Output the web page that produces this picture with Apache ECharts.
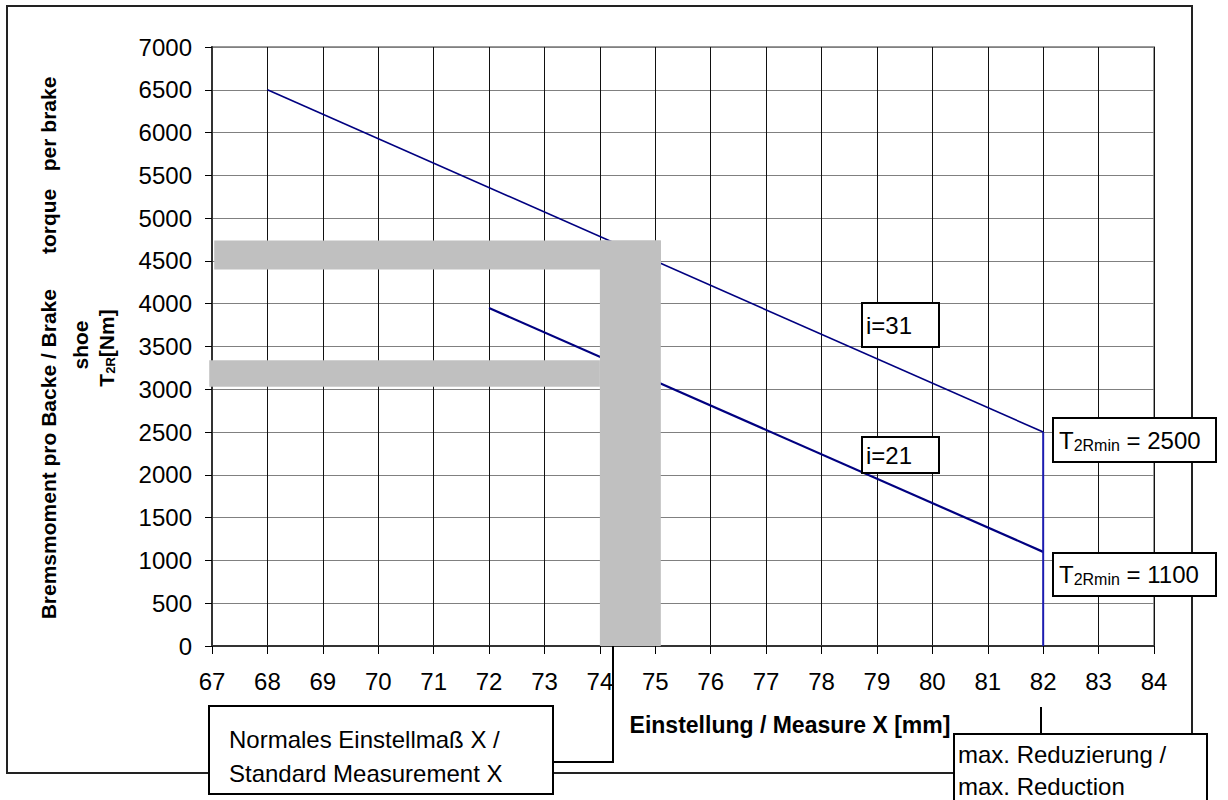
<!DOCTYPE html>
<html>
<head>
<meta charset="utf-8">
<script src="https://cdn.jsdelivr.net/npm/echarts@6.0.0/dist/echarts.min.js"></script>
<style>
  html, body { margin: 0; padding: 0; background: #fff; }
  #chart { width: 1228px; height: 800px; }
</style>
</head>
<body>
<div id="chart"></div>
<script>
// i=31 gear ratio
const xI31 = [68, 82];
const yI31 = [6500, 2500];
// i=21 gear ratio
const xI21 = [72, 82];
const yI21 = [3950, 1100];
// max. reduction limit at X = 82
const xLimit = [82, 82];
const yLimit = [2500, 0];

// grey marker bands: [xFrom, xTo, yFrom, yTo]
const bandXFrom = [67.04, 66.95, 74];
const bandXTo = [75.1, 74, 75.1];
const bandYFrom = [4400, 3030, 0];
const bandYTo = [4740, 3340, 4740];

const xTicks = [67, 84, 1];
const yTicks = [0, 7000, 500];

const FONT = '"Liberation Sans", Arial, sans-serif';

const toPairs = (xs, ys) => xs.map((x, i) => [x, ys[i]]);
const bands = bandXFrom.map((x, i) => [x, bandXTo[i], bandYFrom[i], bandYTo[i]]);

const chart = echarts.init(document.getElementById('chart'), undefined, {
  renderer: 'svg',
});

// boxed text annotation
const box = (x, y, w, h, lines, opts = {}) => ({
  type: 'group',
  z: 100,
  children: [
    {
      type: 'rect',
      z: 100,
      shape: { x, y, width: w, height: h },
      style: { fill: '#fff', stroke: '#000', lineWidth: 2 },
    },
    {
      type: 'text',
      z: 101,
      style: {
        x: x + (opts.padX || 4),
        y: y + h / 2 + (opts.dy || 0),
        text: lines,
        font: `24px ${FONT}`,
        fill: '#000',
        verticalAlign: 'middle',
        lineHeight: opts.lineHeight || 28,
        rich: {
          sub: { fontSize: 16, fontFamily: FONT, padding: [10, 0, 0, 0] },
        },
      },
    },
  ],
});

chart.setOption({
  backgroundColor: '#fff',
  animation: false,
  grid: {
    left: 212,
    right: 74,
    top: 47,
    bottom: 154,
    show: true,
    borderColor: '#999',
    borderWidth: 2,
  },
  xAxis: {
    type: 'value',
    min: xTicks[0],
    max: xTicks[1],
    interval: xTicks[2],
    axisLine: { lineStyle: { color: '#333', width: 2 } },
    axisTick: { length: 8, lineStyle: { color: '#000' } },
    axisLabel: { color: '#000', fontSize: 24, fontFamily: FONT, margin: 23 },
    splitLine: { lineStyle: { color: '#111', width: 1 } },
  },
  yAxis: {
    type: 'value',
    min: yTicks[0],
    max: yTicks[1],
    interval: yTicks[2],
    axisLine: { show: true, lineStyle: { color: '#333', width: 2 } },
    axisTick: { show: true, length: 7, lineStyle: { color: '#000' } },
    axisLabel: {
      color: '#000',
      fontSize: 24,
      fontFamily: FONT,
      margin: 20,
      formatter: (v) => String(v),
    },
    splitLine: { lineStyle: { color: '#808080', width: 1 } },
  },
  series: [
    {
      name: 'i=31',
      type: 'line',
      data: toPairs(xI31, yI31),
      showSymbol: false,
      lineStyle: { color: '#000080', width: 1.6 },
      z: 2,
    },
    {
      name: 'i=21',
      type: 'line',
      data: toPairs(xI21, yI21),
      showSymbol: false,
      lineStyle: { color: '#000080', width: 2.2 },
      z: 2,
    },
    {
      name: 'limit',
      type: 'line',
      data: toPairs(xLimit, yLimit),
      showSymbol: false,
      lineStyle: { color: '#1c1cb0', width: 2 },
      z: 2,
    },
    {
      name: 'bands',
      type: 'custom',
      data: bands,
      clip: false,
      z: 5,
      renderItem: (params, api) => {
        const p0 = api.coord([api.value(0), api.value(3)]);
        const p1 = api.coord([api.value(1), api.value(2)]);
        return {
          type: 'rect',
          shape: { x: p0[0], y: p0[1], width: p1[0] - p0[0], height: p1[1] - p0[1] },
          style: { fill: '#c0c0c0' },
        };
      },
    },
  ],
  graphic: [
    // outer frame
    {
      type: 'rect',
      z: 50,
      shape: { x: 7, y: 6, width: 1185, height: 767 },
      style: { fill: 'none', stroke: '#222', lineWidth: 2 },
    },
    // y axis title
    {
      type: 'text',
      z: 60,
      x: 48,
      y: 348,
      rotation: Math.PI / 2,
      style: {
        text: 'Bremsmoment pro Backe / Brake\u00a0\u00a0\u00a0\u00a0\u00a0 torque\u00a0\u00a0 per brake',
        font: `bold 21px ${FONT}`,
        fill: '#000',
        align: 'center',
        verticalAlign: 'middle',
      },
    },
    {
      type: 'text',
      z: 60,
      x: 80,
      y: 345,
      rotation: Math.PI / 2,
      style: {
        text: 'shoe',
        font: `bold 21px ${FONT}`,
        fill: '#000',
        align: 'center',
        verticalAlign: 'middle',
      },
    },
    {
      type: 'text',
      z: 60,
      x: 106,
      y: 348,
      rotation: Math.PI / 2,
      style: {
        text: 'T{sub|2R}[Nm]',
        font: `bold 21px ${FONT}`,
        fill: '#000',
        align: 'center',
        verticalAlign: 'middle',
        rich: {
          sub: { fontSize: 13, fontWeight: 'bold', fontFamily: FONT, padding: [8, 0, 0, 0] },
        },
      },
    },
    // x axis title
    {
      type: 'text',
      z: 60,
      style: {
        x: 790,
        y: 725,
        text: 'Einstellung / Measure X [mm]',
        font: `bold 23px ${FONT}`,
        fill: '#000',
        align: 'center',
        verticalAlign: 'middle',
      },
    },
    // leader lines
    {
      type: 'polyline',
      z: 60,
      shape: { points: [[553, 762], [613, 762], [613, 646]] },
      style: { stroke: '#000', lineWidth: 2, fill: 'none' },
    },
    {
      type: 'line',
      z: 60,
      shape: { x1: 1041, y1: 707, x2: 1041, y2: 734 },
      style: { stroke: '#000', lineWidth: 2 },
    },
    box(862, 303, 77, 44, 'i=31'),
    box(862, 437, 77, 36, 'i=21'),
    box(1053, 418, 163, 44, 'T{sub|2Rmin} = 2500', { padX: 6 }),
    box(1053, 553, 163, 43, 'T{sub|2Rmin} = 1100', { padX: 6 }),
    box(209, 706, 344, 88, 'Normales Einstellmaß X /\nStandard Measurement X', { padX: 20, lineHeight: 34, dy: 6 }),
    box(954, 734, 253, 90, 'max. Reduzierung /\nmax. Reduction', { padX: 4, lineHeight: 32, dy: -9 }),
  ],
});
</script>
</body>
</html>
